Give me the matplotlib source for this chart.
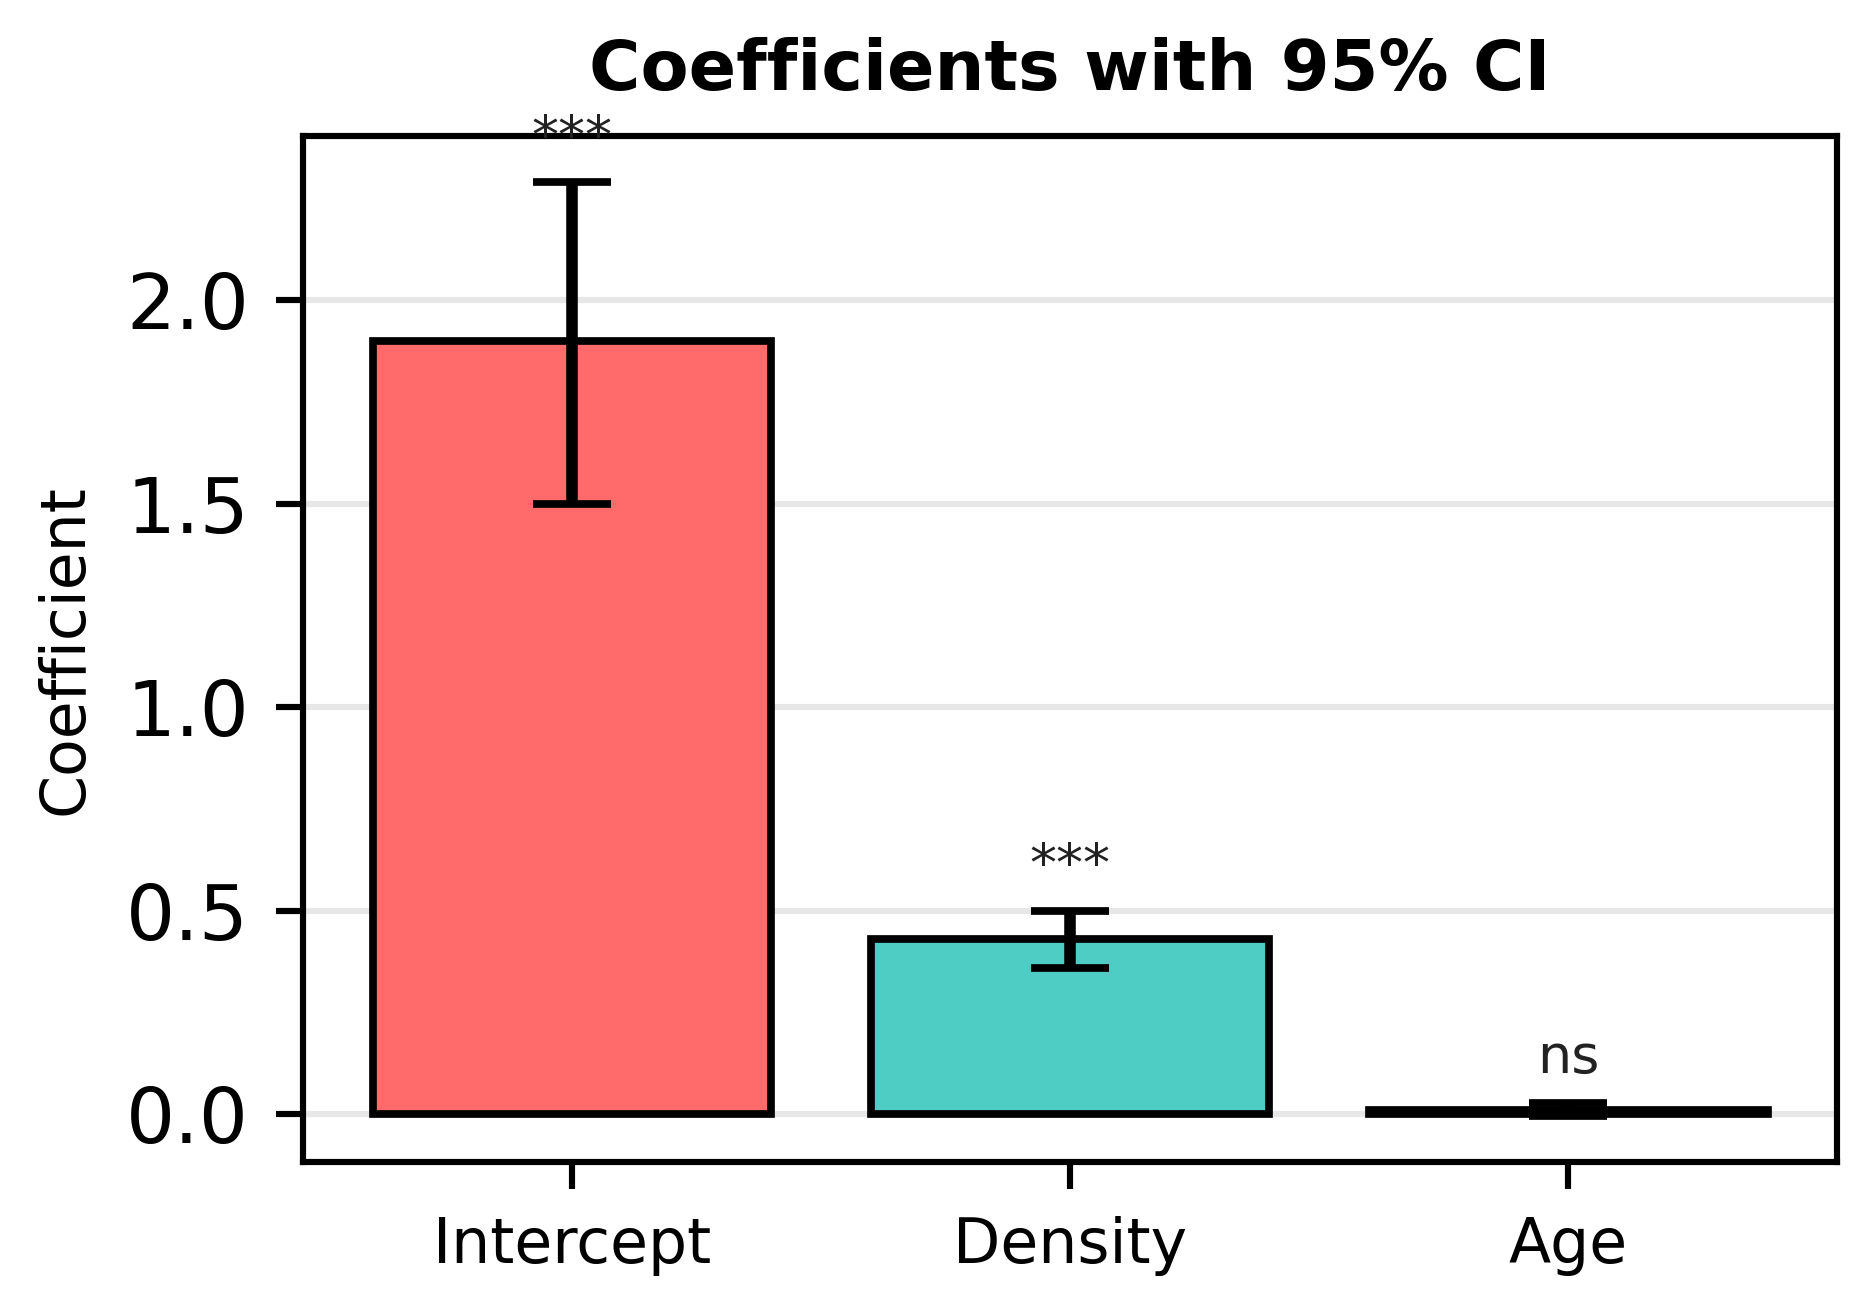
import matplotlib
matplotlib.use('Agg')
import matplotlib.pyplot as plt
import numpy as np

# coefficient estimates and 95% CI bounds
terms = ['Intercept', 'Density', 'Age']
coef = [1.90, 0.43, 0.01]
ci_low = [1.50, 0.36, -0.004]
ci_high = [2.29, 0.50, 0.028]
sig = ['***', '***', 'ns']
colors = ['#FF6B6B', '#4ECDC4', '#45B7D1']


def main():
    fig = plt.figure(figsize=(1873 / 555, 1306 / 555), dpi=555)
    ax = fig.add_axes([0.1618, 0.11, 0.981 - 0.1618, 0.896 - 0.11])

    x = np.arange(len(terms))
    coef_arr = np.array(coef)
    yerr = np.array([coef_arr - np.array(ci_low), np.array(ci_high) - coef_arr])

    ax.bar(x, coef_arr, width=0.8, color=colors, edgecolor='black', linewidth=1,
           yerr=yerr, capsize=5,
           error_kw=dict(elinewidth=1.5, capthick=1, ecolor='black'))

    for i in range(len(terms)):
        ax.text(x[i], ci_high[i] + 0.045, sig[i], ha='center', va='bottom',
                fontsize=7, color='#222222')

    ax.set_xticks(x)
    ax.set_xticklabels(terms, fontsize=8)
    ax.tick_params(axis='y', labelsize=10)
    ax.set_ylabel('Coefficient', fontsize=8)
    ax.set_title('Coefficients with 95% CI', fontsize=9.1, fontweight='bold')
    ax.grid(axis='y', alpha=0.3)
    ax.set_axisbelow(True)

    fig.savefig('out.png', dpi=555)


if __name__ == '__main__':
    main()
